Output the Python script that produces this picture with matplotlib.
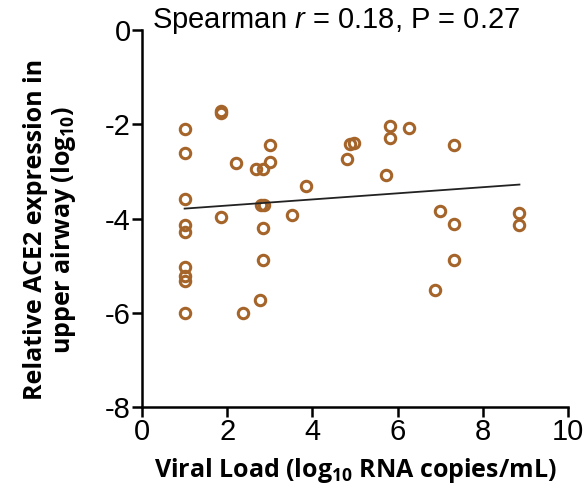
import matplotlib
matplotlib.use('Agg')
import matplotlib.pyplot as plt
import numpy as np

# valeurs
viral_load = [1.0, 1.0, 1.0, 1.0, 1.0, 1.0, 1.0, 1.0, 1.0,
              1.86, 1.86, 1.85, 2.2, 2.37, 2.67, 2.84, 3.0, 3.0,
              2.8, 2.86, 2.84, 2.84, 2.78, 3.51, 3.86,
              4.88, 4.97, 4.81, 5.82, 5.82, 6.26, 5.72, 7.32,
              7.0, 7.32, 7.32, 6.87, 8.86, 8.86]
ace2 = [-2.11, -2.62, -3.58, -4.13, -4.28, -5.03, -5.23, -5.33, -6.01,
        -1.72, -1.77, -3.97, -2.82, -6.01, -2.96, -2.96, -2.43, -2.80,
        -3.71, -3.72, -4.20, -4.89, -5.73, -3.92, -3.30,
        -2.41, -2.40, -2.73, -2.04, -2.30, -2.09, -3.07, -2.45,
        -3.84, -4.11, -4.89, -5.51, -3.89, -4.13]
fit_x = [1.0, 8.86]
fit_y = [-3.79, -3.28]

xticks = [0, 2, 4, 6, 8, 10]
yticks = [0, -2, -4, -6, -8]
xtick_labels = ['0', '2', '4', '6', '8', '10']
ytick_labels = ['0', '-2', '-4', '-6', '-8']

plt.rcParams['font.family'] = ['Liberation Sans', 'DejaVu Sans']
plt.rcParams['mathtext.fontset'] = 'custom'
plt.rcParams['mathtext.rm'] = 'Liberation Sans'
plt.rcParams['mathtext.it'] = 'Liberation Sans:italic'
plt.rcParams['mathtext.bf'] = 'Open Sans:bold'

fig = plt.figure(figsize=(5.87, 4.95), dpi=100)
ax = fig.add_axes([142/587, 1-407/495, (568-142)/587, (407-30)/495])

ax.plot(viral_load, ace2, 'o', ms=7.5, mfc='none', mec='#A5652A', mew=2.2,
        clip_on=False)
ax.plot(fit_x, fit_y, color='#222222', lw=1.3)

ax.set_xlim(0, 10)
ax.set_ylim(-8, 0)
ax.set_xticks(xticks)
ax.set_xticklabels(xtick_labels)
ax.set_yticks(yticks)
ax.set_yticklabels(ytick_labels)
ax.tick_params(direction='out', length=7, width=1.8, labelsize=21, pad=1)
for s in ['top', 'right']:
    ax.spines[s].set_visible(False)
for s in ['left', 'bottom']:
    ax.spines[s].set_linewidth(1.8)

lab_font = dict(fontsize=18, fontweight='bold', family=['Open Sans', 'DejaVu Sans'])
ax.set_xlabel(r'Viral Load (log$\mathbf{_{10}}$ RNA copies/mL)', labelpad=7, **lab_font)
ax.set_ylabel('Relative ACE2 expression in\nupper airway (log$\\mathbf{_{10}}$)',
              linespacing=1.05, **lab_font)
ax.yaxis.set_label_coords(-0.15, 0.47)

ax.annotate(r'Spearman $\it{r}$ = 0.18, P = 0.27', xy=(4.55, 0.0), xytext=(0, -4),
            textcoords='offset points', ha='center', va='bottom', fontsize=21)

plt.savefig('out.png', dpi=100)
